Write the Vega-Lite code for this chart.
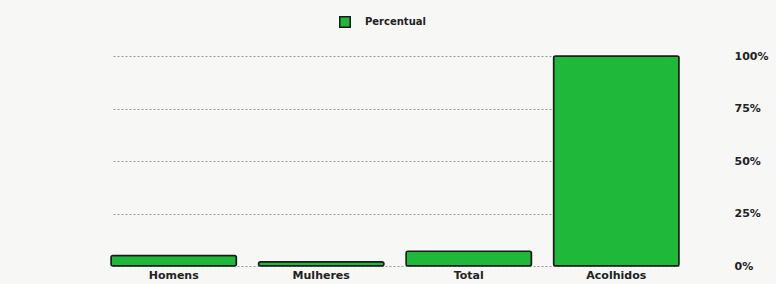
{
  "$schema": "https://vega.github.io/schema/vega-lite/v6.json",
  "width": 776,
  "height": 284,
  "autosize": {"type": "fit", "contains": "padding"},
  "padding": {"left": 110, "right": 8, "top": 50, "bottom": 4},
  "background": "#f7f7f6",
  "data": {
    "values": [
      {"categoria": "Homens", "serie": "Percentual", "valor": 5},
      {"categoria": "Mulheres", "serie": "Percentual", "valor": 2},
      {"categoria": "Total", "serie": "Percentual", "valor": 7},
      {"categoria": "Acolhidos", "serie": "Percentual", "valor": 100}
    ]
  },
  "mark": {"type": "bar", "stroke": "#1a1a1a", "strokeWidth": 1.5, "cornerRadius": 2},
  "encoding": {
    "x": {
      "field": "categoria",
      "type": "nominal",
      "sort": null,
      "scale": {"paddingInner": 0.15, "paddingOuter": 0.0},
      "axis": {
        "title": null,
        "labelAngle": 0,
        "domain": false,
        "ticks": false,
        "labelFont": "DejaVu Sans",
        "labelFontWeight": "bold",
        "labelFontSize": 11,
        "labelColor": "#222222",
        "labelPadding": 3
      }
    },
    "y": {
      "field": "valor",
      "type": "quantitative",
      "scale": {"domain": [0, 100]},
      "axis": {
        "orient": "right",
        "title": null,
        "values": [0, 25, 50, 75, 100],
        "labelExpr": "datum.value + '%'",
        "domain": false,
        "ticks": false,
        "labelPadding": 55,
        "labelFont": "DejaVu Sans",
        "labelFontWeight": "bold",
        "labelFontSize": 11,
        "labelColor": "#222222",
        "grid": true,
        "gridDash": [2, 2],
        "gridColor": "#9a9a9a",
        "gridWidth": 1
      }
    },
    "color": {
      "field": "serie",
      "type": "nominal",
      "scale": {"range": ["#1fb83a"]},
      "legend": {
        "title": null,
        "orient": "none",
        "legendX": 228,
        "legendY": -40,
        "direction": "horizontal",
        "symbolType": "square",
        "symbolSize": 110,
        "symbolStrokeColor": "#1a1a1a",
        "symbolStrokeWidth": 1.5,
        "labelFont": "DejaVu Sans",
        "labelFontWeight": "bold",
        "labelFontSize": 10,
        "labelColor": "#222222",
        "labelOffset": 14
      }
    }
  },
  "config": {"view": {"stroke": null}}
}
